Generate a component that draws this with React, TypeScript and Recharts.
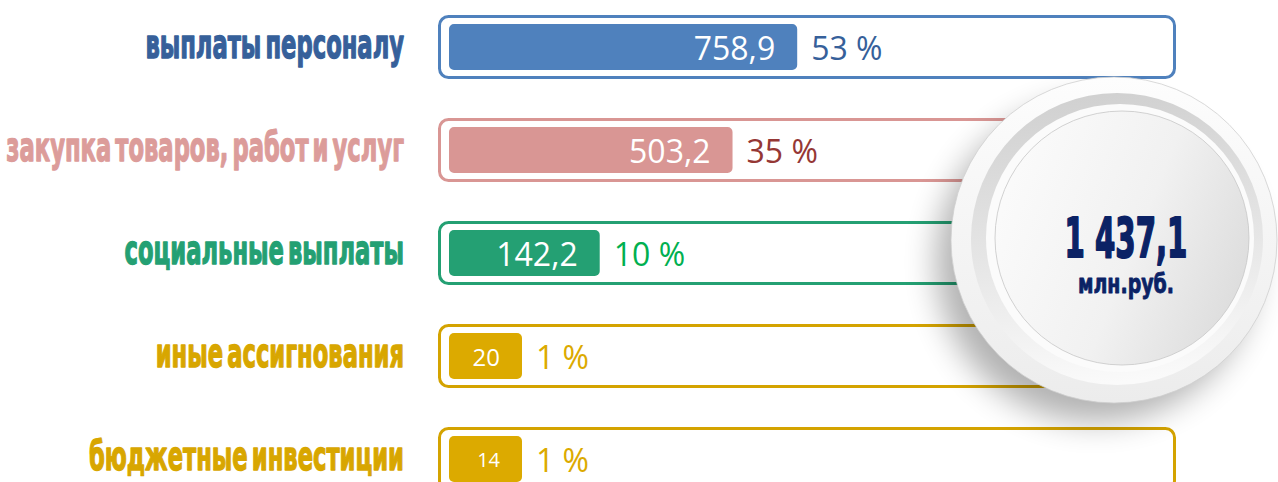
import React from 'react';
import { BarChart, Bar, XAxis, YAxis, LabelList, Cell, Customized } from 'recharts';

// ---- data ----
const categories = [
  'выплаты персоналу',
  'закупка товаров, работ и услуг',
  'социальные выплаты',
  'иные ассигнования',
  'бюджетные инвестиции',
];
const amounts = [758.9, 503.2, 142.2, 20, 14];
const shares = [53, 35, 10, 1, 1];
const totalAmount = 1437.1;
const unitLabel = 'млн.руб.';
const xDomain = [0, 3200];

// ---- styles ----
const barColors = ['#4f81bd', '#d99694', '#24a073', '#dcaa00', '#dcaa00'];
const frameColors = ['#4f81bd', '#d99694', '#24a073', '#d4a300', '#d4a300'];
const labelColors = ['#36609a', '#dc9c9a', '#24a073', '#d8a600', '#d8a600'];
const shareColors = ['#36609a', '#953735', '#00b050', '#dcaa00', '#dcaa00'];
const valueFontSizes = [32, 32, 32, 24, 20];

const fmt = (v: number) => String(v).replace('.', ',');
const fmtTotal = (v: number) => {
  const [i, d] = String(v).split('.');
  const grouped = i.replace(/\B(?=(\d{3})+(?!\d))/g, ' ');
  return d ? `${grouped},${d}` : grouped;
};

const data = categories.map((name, i) => ({ name, value: amounts[i], share: shares[i] }));

const HEAVY = "'Liberation Sans Narrow', 'Arial Narrow', 'DejaVu Sans Condensed', sans-serif";
const PLAIN = "'Open Sans', 'Noto Sans', sans-serif";

const CategoryTick = (props: any) => {
  const { x, y, payload, index } = props;
  return (
    <g transform={`translate(${x},${y + 11}) scale(0.63,1)`}>
      <text
        x={0}
        y={0}
        textAnchor="end"
        fontFamily={HEAVY}
        fontWeight={700}
        fontSize={40}
        fill={labelColors[index]}
        stroke={labelColors[index]}
        strokeWidth={1.3}
        strokeLinejoin="round"
        style={{ wordSpacing: '-6px' }}
      >
        {payload.value}
      </text>
    </g>
  );
};

const Frame = (props: any) => {
  const { x, y, width, height, index } = props;
  return (
    <rect
      x={x - 9.5}
      y={y - 7.5}
      width={width + 20}
      height={height + 15}
      rx={9}
      ry={9}
      fill="#ffffff"
      stroke={frameColors[index]}
      strokeWidth={3}
    />
  );
};

const box = (p: any) => {
  const vb = p.viewBox || {};
  return {
    x: Number(p.x ?? vb.x),
    y: Number(p.y ?? vb.y),
    width: Number(p.width ?? vb.width),
    height: Number(p.height ?? vb.height),
  };
};

const ValueLabel = (props: any) => {
  const { x, y, width, height } = box(props);
  const i = props.index;
  return (
    <text
      x={x + width - 22}
      y={y + height / 2}
      textAnchor="end"
      dominantBaseline="central"
      fontFamily={PLAIN}
      fontSize={valueFontSizes[i]}
      fill="#ffffff"
    >
      {fmt(props.value)}
    </text>
  );
};

const ShareLabel = (props: any) => {
  const { x, y, width, height } = box(props);
  const i = props.index;
  return (
    <text
      x={x + width + 14}
      y={y + height / 2}
      textAnchor="start"
      dominantBaseline="central"
      fontFamily={PLAIN}
      fontSize={32}
      fill={shareColors[i]}
    >
      {`${props.value} %`}
    </text>
  );
};

const Badge = () => {
  const cx = 1114;
  const cy = 240;
  return (
    <g>
      <defs>
        <filter id="bshadow" x="-50%" y="-50%" width="200%" height="200%">
          <feGaussianBlur stdDeviation="16" />
        </filter>
        <linearGradient id="outerG" x1="0" y1="0" x2="0" y2="1">
          <stop offset="0" stopColor="#fdfdfd" />
          <stop offset="1" stopColor="#ececec" />
        </linearGradient>
        <linearGradient id="bandG" x1="0.3" y1="0" x2="0.4" y2="1">
          <stop offset="0" stopColor="#d0d0d0" />
          <stop offset="0.55" stopColor="#e6e6e6" />
          <stop offset="1" stopColor="#fafafa" />
        </linearGradient>
        <linearGradient id="innerG" x1="0" y1="0.3" x2="1" y2="0.7">
          <stop offset="0" stopColor="#fbfbfb" />
          <stop offset="0.55" stopColor="#f1f1f1" />
          <stop offset="1" stopColor="#dcdcdc" />
        </linearGradient>
      </defs>
      <circle cx={cx - 18} cy={cy + 22} r={160} fill="#000000" opacity={0.3} filter="url(#bshadow)" />
      <circle cx={cx} cy={cy} r={163} fill="url(#outerG)" stroke="#cfcfcf" strokeWidth={0.8} />
      <circle cx={cx + 3} cy={cy - 1} r={146} fill="url(#bandG)" />
      <circle cx={cx + 6} cy={cy - 2} r={134} fill="#fbfbfb" />
      <circle cx={cx + 8} cy={cy - 2} r={127} fill="url(#innerG)" stroke="#c6c6c6" strokeWidth={0.8} />
      <g transform={`translate(${cx + 12},${cy + 17}) scale(0.58,1)`}>
        <text x={0} y={0} textAnchor="middle" fontFamily={HEAVY} fontWeight={700} fontSize={56} fill="#0b2265" stroke="#0b2265" strokeWidth={1.8} strokeLinejoin="round">
          {fmtTotal(totalAmount)}
        </text>
      </g>
      <g transform={`translate(${cx + 12},${cy + 53}) scale(0.78,1)`}>
        <text x={0} y={0} textAnchor="middle" fontFamily={HEAVY} fontWeight={700} fontSize={27} fill="#0b2265" stroke="#0b2265" strokeWidth={0.8} strokeLinejoin="round">
          {unitLabel}
        </text>
      </g>
    </g>
  );
};

export default function App() {
  return (
    <div style={{ position: 'absolute', left: 0, top: 0, width: 1278, height: 482, overflow: 'hidden', background: '#ffffff' }}>
      <BarChart
        width={1278}
        height={482}
        layout="vertical"
        data={data}
        margin={{ top: -5, right: 114, bottom: -28, left: 0 }}
      >
        <XAxis type="number" scale="sqrt" domain={xDomain} hide />
        <YAxis
          type="category"
          dataKey="name"
          width={449}
          axisLine={false}
          tickLine={false}
          tickSize={0}
          tickMargin={45}
          interval={0}
          tick={<CategoryTick />}
        />
        <Bar
          dataKey="value"
          barSize={46}
          radius={5}
          minPointSize={73}
          background={<Frame />}
          isAnimationActive={false}
        >
          {data.map((d, i) => (
            <Cell key={d.name} fill={barColors[i]} />
          ))}
          <LabelList dataKey="value" content={<ValueLabel />} />
          <LabelList dataKey="share" content={<ShareLabel />} />
        </Bar>
        <Customized component={<Badge />} />
      </BarChart>
    </div>
  );
}
